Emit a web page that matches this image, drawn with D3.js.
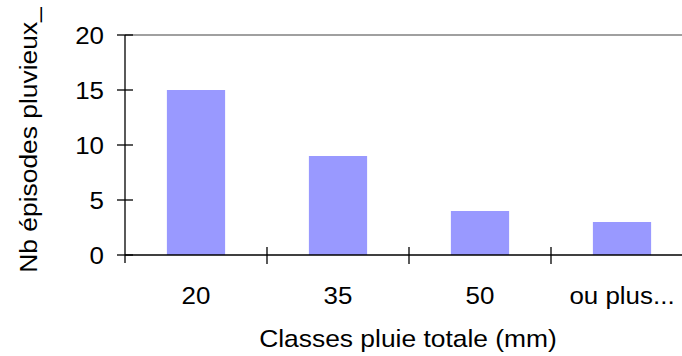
<!DOCTYPE html>
<html><head><meta charset="utf-8">
<script src="https://cdn.jsdelivr.net/npm/d3@7"></script>
<style>body{margin:0;background:#fff}svg{display:block}text{font-family:"Liberation Sans",Arial,sans-serif;fill:#000}</style>
</head><body>
<script>
const categories = ["20", "35", "50", "ou plus..."];
const values = [15, 9, 4, 3];
const yTicks = [0, 5, 10, 15, 20];
const xTitle = "Classes pluie totale (mm)";
const yTitle = "Nb épisodes pluvieux_";

const W = 682, H = 356, FS = 24, SX = 1.08;
const svg = d3.select("body").append("svg").attr("width", W).attr("height", H);
const x = d3.scaleBand().domain(categories).range([125, 693]).paddingInner(0.59).paddingOuter(0.295);
const y = d3.scaleLinear().domain([0, 20]).range([255, 35]);

// top gridline
svg.append("line").attr("x1", 125).attr("x2", W).attr("y1", y(20)).attr("y2", y(20))
  .attr("stroke", "#808080").attr("stroke-width", 1.5);

// bars
svg.selectAll("rect.bar").data(values).enter().append("rect")
  .attr("x", (d, i) => x(categories[i]))
  .attr("y", d => y(d))
  .attr("width", x.bandwidth())
  .attr("height", d => y(0) - y(d))
  .attr("fill", "#9999FF");

// y axis
const gy = svg.append("g").attr("transform", "translate(125,0)");
gy.append("line").attr("x1", 0).attr("x2", 0).attr("y1", y(20)).attr("y2", y(0) + 8).attr("stroke", "#000").attr("stroke-width", 1.3);
gy.selectAll("line.t").data(yTicks).enter().append("line")
  .attr("x1", -8).attr("x2", 8).attr("y1", d => y(d)).attr("y2", d => y(d))
  .attr("stroke", "#000").attr("stroke-width", 1.3);
gy.selectAll("text").data(yTicks).enter().append("text")
  .attr("transform", d => `translate(-21,${y(d)}) scale(${SX},1)`).attr("dy", "0.36em")
  .attr("text-anchor", "end").attr("font-size", FS).text(d => d);

// x axis
const step = x.step();
const edges = [125, 125 + step, 125 + 2 * step, 125 + 3 * step];
svg.append("line").attr("x1", 125).attr("x2", W).attr("y1", y(0)).attr("y2", y(0)).attr("stroke", "#000").attr("stroke-width", 1.3);
svg.selectAll("line.xt").data(edges.slice(1)).enter().append("line")
  .attr("x1", d => d).attr("x2", d => d).attr("y1", y(0) - 8).attr("y2", y(0) + 9)
  .attr("stroke", "#000").attr("stroke-width", 1.3);
svg.selectAll("text.xl").data(categories).enter().append("text")
  .attr("transform", d => `translate(${x(d) + x.bandwidth() / 2},304) scale(${SX},1)`)
  .attr("text-anchor", "middle").attr("font-size", FS).text(d => d);

// titles
svg.append("text").attr("transform", `translate(408,347) scale(1.1,1)`).attr("text-anchor", "middle").attr("font-size", FS).text(xTitle);
svg.append("text").attr("transform", "translate(37,140) rotate(-90) scale(1.1,1)").attr("text-anchor", "middle").attr("font-size", FS).text(yTitle);
</script>
</body></html>
